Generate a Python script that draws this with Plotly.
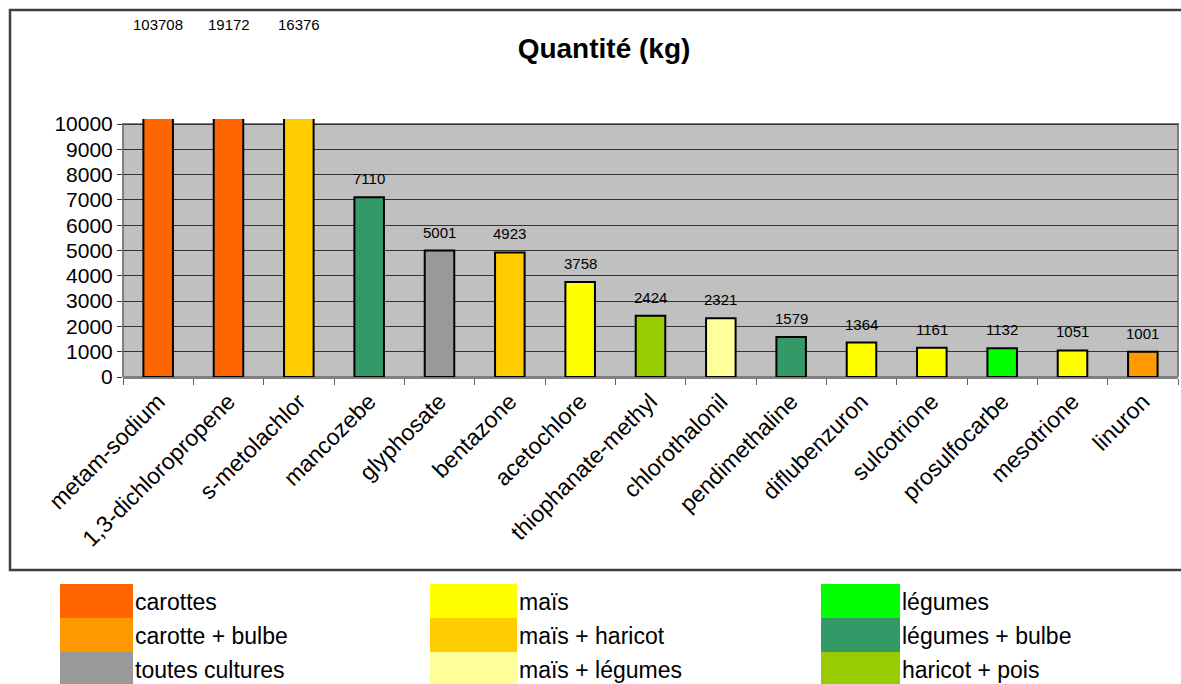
import plotly.graph_objects as go

# ---- data ----
substances = ["metam-sodium", "1,3-dichloropropene", "s-metolachlor", "mancozebe", "glyphosate",
              "bentazone", "acetochlore", "thiophanate-methyl", "chlorothalonil", "pendimethaline",
              "diflubenzuron", "sulcotrione", "prosulfocarbe", "mesotrione", "linuron"]
quantites = [103708, 19172, 16376, 7110, 5001, 4923, 3758, 2424, 2321, 1579, 1364, 1161, 1132, 1051, 1001]
cultures = ["carottes", "carottes", "maïs + haricot", "légumes + bulbe", "toutes cultures",
            "maïs + haricot", "maïs", "haricot + pois", "maïs + légumes", "légumes + bulbe",
            "maïs", "maïs", "légumes", "maïs", "carotte + bulbe"]

legend_labels = ["carottes", "carotte + bulbe", "toutes cultures",
                 "maïs", "maïs + haricot", "maïs + légumes",
                 "légumes", "légumes + bulbe", "haricot + pois"]
legend_colors = ["#FF6600", "#FF9900", "#999999",
                 "#FFFF00", "#FFCC00", "#FFFF99",
                 "#00FF00", "#339966", "#99CC00"]
y_ticks = [0, 1000, 2000, 3000, 4000, 5000, 6000, 7000, 8000, 9000, 10000]
y_max = 10000

color_map = dict(zip(legend_labels, legend_colors))
bar_colors = [color_map[c] for c in cultures]

# ---- layout geometry ----
W, H = 1181, 684
ML, MR, MT, MB = 123, 3, 119, 307
PW = W - ML - MR
PH = H - MT - MB
FONT = "Liberation Sans, Arial"

def px_x(px):
    return (px - ML) / PW

def px_y(py):
    return (H - MB - py) / PH

fig = go.Figure()
fig.add_trace(go.Bar(
    x=substances, y=quantites,
    marker=dict(color=bar_colors, line=dict(color="black", width=2)),
    width=0.42, showlegend=False, hoverinfo="x+y",
))

annotations = []
for s, q in zip(substances, quantites):
    if q <= y_max:
        annotations.append(dict(x=s, y=q, xref="x", yref="y", text=str(q), showarrow=False,
                                yanchor="bottom", yshift=8,
                                font=dict(family=FONT, size=15, color="black")))
    else:
        annotations.append(dict(x=s, y=px_y(24), xref="x", yref="paper", text=str(q), showarrow=False,
                                yanchor="middle",
                                font=dict(family=FONT, size=15, color="black")))

shapes = []
# grey plot area up to 10000
shapes.append(dict(type="rect", xref="paper", yref="y", x0=0, x1=1, y0=0, y1=y_max,
                   fillcolor="#C0C0C0", line=dict(color="#808080", width=2), layer="below"))
# outer chart border
shapes.append(dict(type="rect", xref="paper", yref="paper",
                   x0=px_x(10), x1=px_x(1200), y0=px_y(570), y1=px_y(10),
                   fillcolor="rgba(0,0,0,0)", line=dict(color="#404040", width=2.5), layer="above"))

# custom legend (3 columns x 3 rows)
col_sw = [(60, 133), (430, 517), (821, 900)]
row_y = [(584, 618), (618, 652), (652, 686)]
for i, (lab, colr) in enumerate(zip(legend_labels, legend_colors)):
    c, r = i // 3, i % 3
    x0, x1 = col_sw[c]
    y0, y1 = row_y[r]
    shapes.append(dict(type="rect", xref="paper", yref="paper",
                       x0=px_x(x0), x1=px_x(x1), y0=px_y(y1), y1=px_y(y0),
                       fillcolor=colr, line=dict(width=0), layer="above"))
    annotations.append(dict(x=px_x(x1), y=px_y((y0 + y1) / 2 + 1), xref="paper", yref="paper",
                            text=lab, showarrow=False, xanchor="left", yanchor="middle",
                            font=dict(family=FONT, size=23, color="black")))

fig.update_layout(
    width=W, height=H,
    margin=dict(l=ML, r=MR, t=MT, b=MB),
    paper_bgcolor="white", plot_bgcolor="white",
    title=dict(text="<b>Quantité (kg)</b>", x=604 / W, xanchor="center", xref="container",
               y=1 - 48 / H, yanchor="middle", yref="container",
               font=dict(family=FONT, size=28, color="black")),
    shapes=shapes, annotations=annotations,
)
fig.update_xaxes(type="category", tickangle=-45, ticks="outside", tickson="boundaries",
                 ticklen=6, tickcolor="#606060", showline=True, linecolor="#808080", linewidth=2,
                 showgrid=False,
                 tickfont=dict(family=FONT, size=23, color="black"))
fig.update_yaxes(range=[0, y_max * 1.02], tickvals=y_ticks, ticktext=[str(v) for v in y_ticks],
                 ticks="outside", ticklen=5, tickcolor="#333333",
                 showgrid=True, gridcolor="#333333", gridwidth=1, zeroline=False, showline=False,
                 tickfont=dict(family=FONT, size=21, color="black"))

fig.write_html("out.html", config={"displayModeBar": False},
               post_script="document.body.style.margin='0';document.body.style.overflow='hidden';")
